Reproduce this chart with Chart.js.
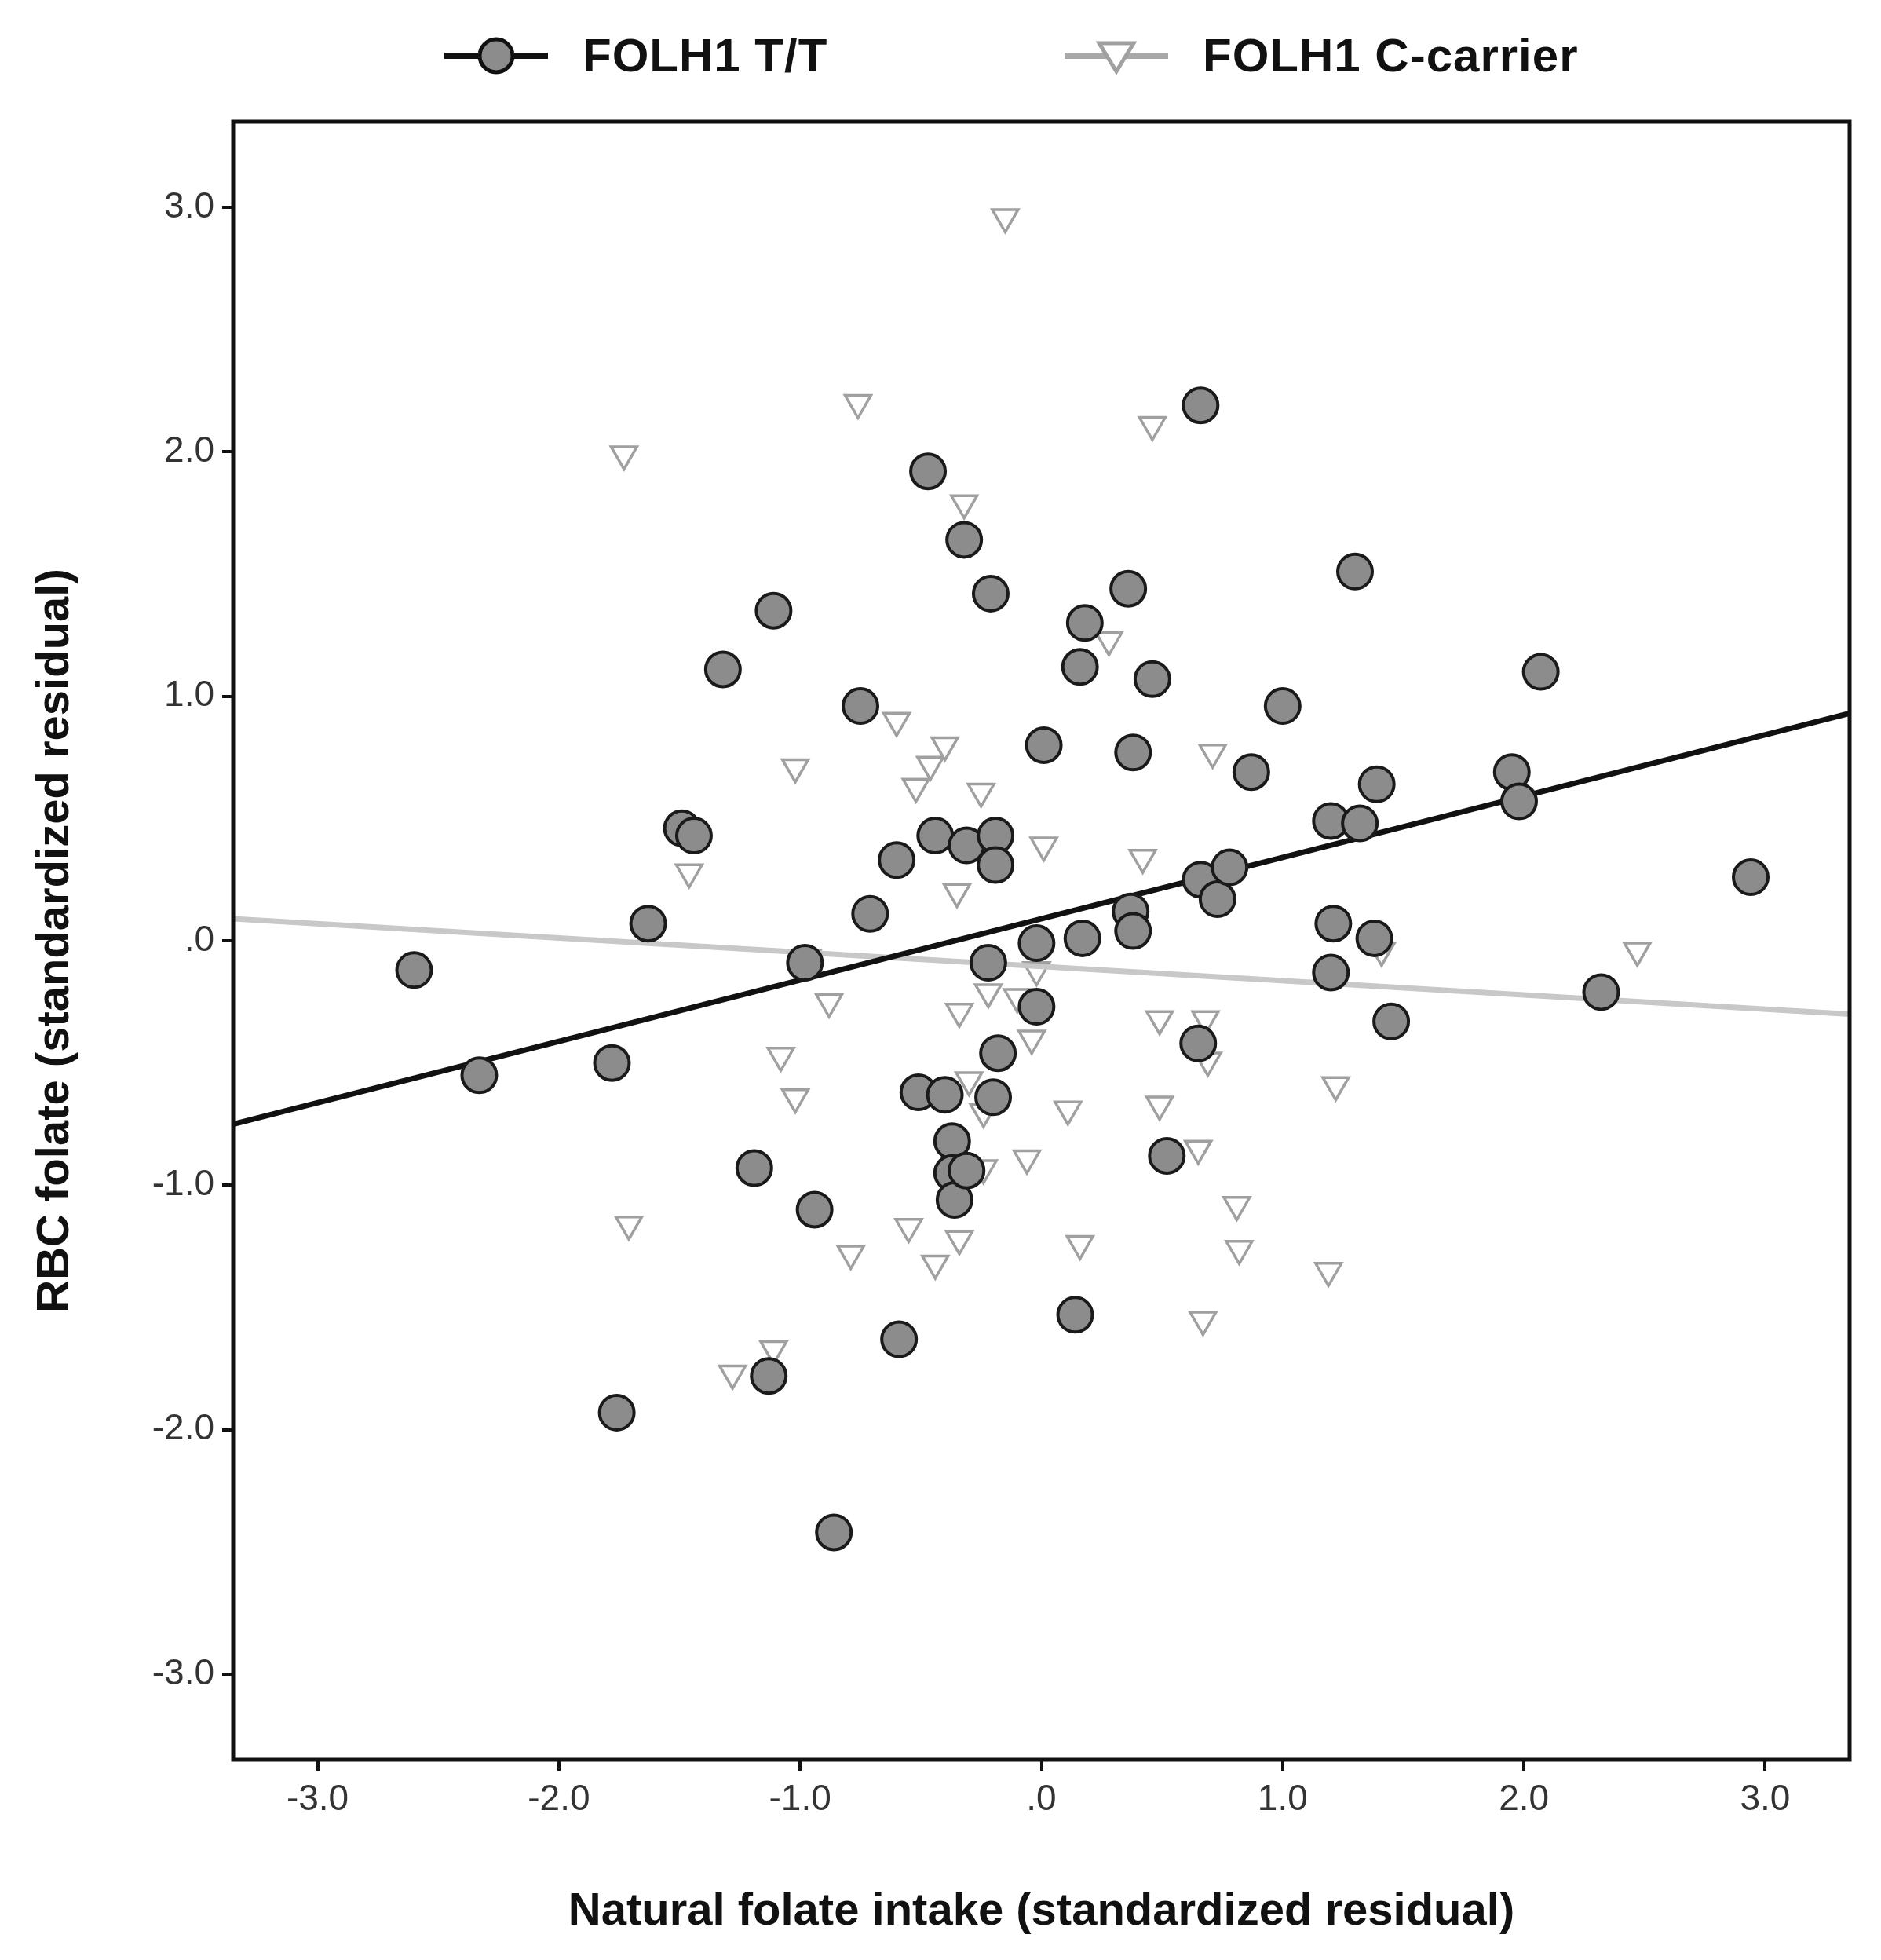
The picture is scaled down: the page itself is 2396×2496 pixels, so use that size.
<!DOCTYPE html>
<html>
<head>
<meta charset="utf-8">
<script src="https://cdn.jsdelivr.net/npm/chart.js@4/dist/chart.umd.min.js"></script>
<style>
  html, body { margin: 0; padding: 0; background: #fff; }
  #wrap { position: relative; width: 2396px; height: 2496px; }
  .leg { position: absolute; top: 36px; font: bold 60px "Liberation Sans", Arial, sans-serif; color: #111; display: flex; align-items: center; letter-spacing: 1px; }
  .leg svg { margin-right: 40px; }
</style>
</head>
<body>
<div id="wrap">
  <div class="leg" style="left:562px">
    <svg width="140" height="60"><line x1="4" y1="30" x2="136" y2="30" stroke="#111" stroke-width="8"/><circle cx="70" cy="30" r="21" fill="#8c8c8c" stroke="#111" stroke-width="5"/></svg>FOLH1 T/T
  </div>
  <div class="leg" style="left:1352px">
    <svg width="140" height="60"><line x1="4" y1="30" x2="136" y2="30" stroke="#a8a8a8" stroke-width="8"/><polygon points="48,14 92,14 70,50" fill="#fff" stroke="#a0a0a0" stroke-width="5"/></svg>FOLH1 C-carrier
  </div>
  <canvas id="c" width="2396" height="2496"></canvas>
</div>
<script>
// FOLH1 T/T points [x, y]
const ttX = [-2.60,-2.33,-1.78,-1.76,-1.63,-1.49,-1.44,-1.32,-1.19,-1.11,-1.13,-0.98,-0.94,-0.86,-0.75,-0.71,-0.60,-0.59,-0.51,-0.47,-0.44,-0.40,-0.37,-0.37,-0.36,-0.31,-0.31,-0.32,-0.21,-0.22,-0.20,-0.19,-0.19,-0.18,-0.02,-0.02,0.01,0.16,0.18,0.17,0.14,0.36,0.37,0.38,0.38,0.46,0.52,0.65,0.66,0.66,0.73,0.78,0.87,1.00,1.20,1.21,1.20,1.30,1.32,1.38,1.39,1.45,1.95,1.98,2.07,2.32,2.94];
const ttY = [-0.12,-0.55,-0.50,-1.93,0.07,0.46,0.43,1.11,-0.93,1.35,-1.78,-0.09,-1.10,-2.42,0.96,0.11,0.33,-1.63,-0.62,1.92,0.43,-0.63,-0.82,-0.95,-1.06,-0.94,0.39,1.64,1.42,-0.09,-0.64,0.43,0.31,-0.46,-0.01,-0.27,0.80,1.12,1.30,0.01,-1.53,1.44,0.12,0.04,0.77,1.07,-0.88,-0.42,2.19,0.25,0.17,0.30,0.69,0.96,0.49,0.07,-0.13,1.51,0.48,0.01,0.64,-0.33,0.69,0.57,1.10,-0.21,0.26];
// FOLH1 C-carrier points
const ccX = [-1.73,-1.46,-1.71,-1.28,-1.11,-1.08,-1.02,-1.02,-0.97,-0.88,-0.79,-0.76,-0.60,-0.55,-0.52,-0.46,-0.44,-0.40,-0.35,-0.34,-0.34,-0.32,-0.30,-0.25,-0.24,-0.24,-0.22,-0.15,-0.10,-0.06,-0.04,0.01,-0.02,0.11,0.16,0.28,0.42,0.46,0.49,0.49,0.65,0.67,0.68,0.69,0.71,0.81,0.82,1.19,1.22,1.41,2.47];
const ccY = [1.99,0.28,-1.16,-1.77,-1.67,-0.47,-0.64,0.71,-0.07,-0.25,-1.28,2.20,0.90,-1.17,0.63,0.72,-1.32,0.80,0.20,-1.22,-0.29,1.79,-0.57,0.61,-0.70,-0.93,-0.21,2.96,-0.23,-0.89,-0.40,0.39,-0.12,-0.69,-1.24,1.23,0.34,2.11,-0.32,-0.67,-0.85,-1.55,-0.32,-0.49,0.77,-1.08,-1.26,-1.35,-0.59,-0.04,-0.04];
// fit lines, endpoints at axis limits
const fitX = [-3.35, 3.35];
const ttFitY = [-0.75, 0.93];
const ccFitY = [0.09, -0.30];
const tickVals = [-3, -2, -1, 0, 1, 2, 3];

const pts = (xs, ys) => xs.map((x, i) => ({ x, y: ys[i] }));
const fmt = v => v === 0 ? '.0' : v.toFixed(1);
const FONT = '"Liberation Sans", Arial, sans-serif';

const frame = {
  id: 'frame',
  afterDatasetsDraw(chart) {
    const { ctx, chartArea: a } = chart;
    ctx.save();
    ctx.strokeStyle = '#111';
    ctx.lineWidth = 5;
    ctx.strokeRect(a.left, a.top, a.right - a.left, a.bottom - a.top);
    ctx.restore();
  }
};

const axis = (title, size) => ({
  type: 'linear', min: -3.35, max: 3.35,
  afterBuildTicks: ax => { ax.ticks = tickVals.map(v => ({ value: v })); },
  afterFit: ax => { if (ax.isHorizontal()) ax.height = size; else ax.width = size; },
  grid: { drawOnChartArea: false, drawTicks: true, tickLength: 14, color: '#111', lineWidth: 4 },
  border: { display: false },
  ticks: { color: '#333', font: { family: FONT, size: 46 }, padding: 10, callback: fmt },
  title: { display: true, text: title, color: '#111', font: { family: FONT, size: 58, weight: 'bold' }, padding: { top: 36, bottom: 26 } }
});

new Chart(document.getElementById('c'), {
  type: 'scatter',
  data: {
    datasets: [
      { data: pts(ttX, ttY), order: 1, pointStyle: 'circle', pointRadius: 22, backgroundColor: '#8c8c8c', borderColor: '#1a1a1a', borderWidth: 4 },
      { type: 'line', data: pts(fitX, ttFitY), order: 3, borderColor: '#111', borderWidth: 7, pointRadius: 0 },
      { type: 'line', data: pts(fitX, ccFitY), order: 4, borderColor: '#c8c8c8', borderWidth: 7, pointRadius: 0 },
      { data: pts(ccX, ccY), order: 5, pointStyle: 'triangle', rotation: 180, pointRadius: 19, backgroundColor: '#fff', borderColor: '#a0a0a0', borderWidth: 3.5 }
    ]
  },
  options: {
    responsive: false,
    devicePixelRatio: 1,
    animation: false,
    layout: { padding: { top: 155, right: 40, left: 0, bottom: 0 } },
    plugins: { legend: { display: false }, tooltip: { enabled: false } },
    scales: {
      x: axis('Natural folate intake (standardized residual)', 255),
      y: axis('RBC folate (standardized residual)', 297)
    }
  },
  plugins: [frame]
});
</script>
</body>
</html>
